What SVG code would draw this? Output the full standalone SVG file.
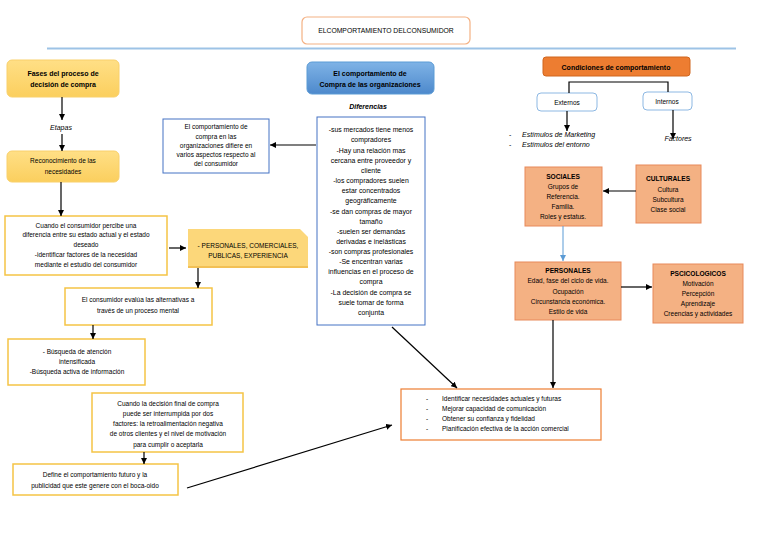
<svg xmlns="http://www.w3.org/2000/svg" width="768" height="543" viewBox="0 0 768 543">
<defs>
<linearGradient id="gy" x1="0" y1="0" x2="0" y2="1"><stop offset="0" stop-color="#ffdf86"/><stop offset="1" stop-color="#fbcf5e"/></linearGradient>
<linearGradient id="gb" x1="0" y1="0" x2="0" y2="1"><stop offset="0" stop-color="#7fb3e6"/><stop offset="1" stop-color="#4d89cc"/></linearGradient>
<marker id="ah" viewBox="0 0 10 10" refX="10" refY="5" markerWidth="6" markerHeight="6" markerUnits="userSpaceOnUse" orient="auto"><path d="M0,0 L10,5 L0,10 z" fill="#000"/></marker>
<marker id="ahb" viewBox="0 0 10 10" refX="10" refY="5" markerWidth="6" markerHeight="6" markerUnits="userSpaceOnUse" orient="auto"><path d="M0,0 L10,5 L0,10 z" fill="#5b9bd5"/></marker>
<style>
text{font-family:"Liberation Sans",Arial,sans-serif;fill:#000;text-anchor:middle}
.t{font-size:6.5px}
.d{font-size:6.9px}
.b{font-size:7px;font-weight:bold}
.i{font-size:7px;font-style:italic}
.ybox{fill:#fff;stroke:#f5c445;stroke-width:1.5}
.bbox{fill:#fff;stroke:#4472c4;stroke-width:1}
.sal{fill:#f4b183;stroke:#e8895a;stroke-width:1}
.con line,.con path{stroke:#000;stroke-width:1.2;fill:none}
</style>
</defs>
<rect width="768" height="543" fill="#fff"/>
<line x1="47" y1="48.5" x2="736" y2="48.5" stroke="#9dc3e6" stroke-width="2"/>

<g id="title">
<rect x="302" y="17" width="168" height="27" rx="5" fill="#fff" stroke="#f4b183" stroke-width="1.2"/>
<text x="386" y="33" style="font-size:6.8px">ELCOMPORTAMIENTO DELCONSUMIDOR</text>
</g>

<g id="fases">
<rect x="7" y="60" width="112" height="37" rx="5" fill="url(#gy)" stroke="#f9d06a" stroke-width="1"/>
<text class="b" x="63" y="75.5">Fases del proceso de</text>
<text class="b" x="63" y="86.5">decisión de compra</text>
</g>

<g id="etapas"><text class="i" x="61" y="130">Etapas</text></g>

<g id="reconocimiento">
<rect x="7" y="151" width="112" height="31" rx="5" fill="url(#gy)" stroke="#f9d06a" stroke-width="1"/>
<text class="t" x="63" y="163">Reconocimiento de las</text>
<text class="t" x="63" y="173.5">necesidades</text>
</g>

<g id="cuando">
<rect class="ybox" x="5" y="216" width="162" height="59"/>
<text class="t" x="86" y="227.5">Cuando el consumidor percibe una</text>
<text class="t" x="86" y="237">diferencia entre su estado actual y el estado</text>
<text class="t" x="86" y="246.5">deseado</text>
<text class="t" x="86" y="257">-identificar factores de la necesidad</text>
<text class="t" x="86" y="267">mediante el estudio del consumidor</text>
</g>

<g id="nota">
<path d="M188,229 H300 L308,237 V268 H188 Z" fill="#fcd77a"/>
<path d="M188,267 H308" stroke="#efb84a" stroke-width="1.5"/>
<text class="t" x="248" y="248">- PERSONALES, COMERCIALES,</text>
<text class="t" x="248" y="258">PUBLICAS, EXPERIENCIA</text>
</g>

<g id="evalua">
<rect class="ybox" x="65" y="288" width="147" height="37"/>
<text class="t" x="138" y="302">El consumidor evalúa las alternativas a</text>
<text class="t" x="138" y="313">través de un proceso mental</text>
</g>

<g id="busqueda">
<rect class="ybox" x="8" y="339" width="137" height="46"/>
<text class="t" x="77" y="354">- Búsqueda de atención</text>
<text class="t" x="77" y="364">intensificada</text>
<text class="t" x="77" y="374">-Búsqueda activa de información</text>
</g>

<g id="decision">
<rect class="ybox" x="92" y="393" width="151" height="59"/>
<text class="t" x="168" y="406">Cuando la decisión final de compra</text>
<text class="t" x="168" y="416">puede ser interrumpida por dos</text>
<text class="t" x="168" y="426">factores: la retroalimentación negativa</text>
<text class="t" x="168" y="436">de otros clientes y el nivel de motivación</text>
<text class="t" x="168" y="447">para cumplir o aceptarla</text>
</g>

<g id="define">
<rect class="ybox" x="13" y="464" width="165" height="31"/>
<text class="t" x="95" y="477">Define el comportamiento futuro y la</text>
<text class="t" x="95" y="488">publicidad que este genere con el boca-oido</text>
</g>

<g id="organizaciones">
<rect x="307" y="62" width="127" height="32" rx="5" fill="url(#gb)" stroke="#5b9bd5" stroke-width="1"/>
<text class="b" x="370" y="75.5">El comportamiento de</text>
<text class="b" x="370" y="86.5">Compra de las organizaciones</text>
</g>

<g id="diferencias-label"><text class="i" x="368" y="109" style="font-weight:bold">Diferencias</text></g>

<g id="diferencias">
<rect class="bbox" x="317" y="117" width="108" height="208"/>
<text class="d" x="371" y="132">-sus mercados tiene  menos</text>
<text class="d" x="371" y="142">compradores</text>
<text class="d" x="371" y="152.5">-Hay una relación mas</text>
<text class="d" x="371" y="162.5">cercana entre proveedor y</text>
<text class="d" x="371" y="172.5">cliente</text>
<text class="d" x="371" y="183">-los compradores suelen</text>
<text class="d" x="371" y="193">estar concentrados</text>
<text class="d" x="371" y="203">geográficamente</text>
<text class="d" x="371" y="213.5">-se dan compras de mayor</text>
<text class="d" x="371" y="223.5">tamaño</text>
<text class="d" x="371" y="233.5">-suelen ser demandas</text>
<text class="d" x="371" y="243.5">derivadas e inelásticas</text>
<text class="d" x="371" y="254">-son compras profesionales</text>
<text class="d" x="371" y="264">-Se encentran varias</text>
<text class="d" x="371" y="274">influencias en el proceso de</text>
<text class="d" x="371" y="284">compra</text>
<text class="d" x="371" y="294.5">-La decisión de compra se</text>
<text class="d" x="371" y="304.5">suele tomar de forma</text>
<text class="d" x="371" y="314.5">conjunta</text>
</g>

<g id="compra-org">
<rect class="bbox" x="163" y="119" width="106" height="54"/>
<text class="t" x="216" y="129">El comportamiento de</text>
<text class="t" x="216" y="138.5">compra en las</text>
<text class="t" x="216" y="147.5">organizaciones difiere en</text>
<text class="t" x="216" y="156.5">varios aspectos respecto al</text>
<text class="t" x="216" y="166">del consumidor</text>
</g>

<g id="objetivos">
<rect x="401" y="389" width="200" height="51" fill="#fff" stroke="#ed7d31" stroke-width="1.2"/>
<g style="text-anchor:start">
<text class="t" x="426" y="401" style="text-anchor:start">-</text>
<text class="t" x="426" y="411" style="text-anchor:start">-</text>
<text class="t" x="426" y="421" style="text-anchor:start">-</text>
<text class="t" x="426" y="431" style="text-anchor:start">-</text>
<text class="t" x="442" y="401" style="text-anchor:start">Identificar necesidades actuales y futuras</text>
<text class="t" x="442" y="411" style="text-anchor:start">Mejorar capacidad de comunicación</text>
<text class="t" x="442" y="421" style="text-anchor:start">Obtener su confianza y fidelidad</text>
<text class="t" x="442" y="431" style="text-anchor:start">Planificación efectiva de la acción comercial</text>
</g>
</g>

<g id="condiciones">
<rect x="543" y="57" width="147" height="19" rx="3" fill="#ed7d31" stroke="#d0661f" stroke-width="1"/>
<text class="b" x="616" y="69.5">Condiciones de comportamiento</text>
</g>

<g id="externos">
<rect x="537" y="93" width="60" height="18" rx="4" fill="#fff" stroke="#8db8e3" stroke-width="1"/>
<text class="t" x="567" y="104.5">Externos</text>
</g>

<g id="internos">
<rect x="643" y="92" width="49" height="18" rx="4" fill="#fff" stroke="#8db8e3" stroke-width="1"/>
<text class="t" x="667" y="103.5">Internos</text>
</g>

<g id="estimulos">
<text class="i" x="509" y="137" style="text-anchor:start;font-style:normal">-</text>
<text class="i" x="509" y="147" style="text-anchor:start;font-style:normal">-</text>
<text class="i" x="522" y="137" style="text-anchor:start">Estímulos de Marketing</text>
<text class="i" x="522" y="147" style="text-anchor:start">Estímulos del entorno</text>
</g>

<g id="factores"><text class="i" x="678" y="141">Factores</text></g>

<g id="sociales">
<rect class="sal" x="525" y="167" width="77" height="59"/>
<text class="b" x="563" y="179" style="font-size:6.6px">SOCIALES</text>
<text class="t" x="563" y="188.5">Grupos de</text>
<text class="t" x="563" y="198.5">Referencia.</text>
<text class="t" x="563" y="208.5">Familia.</text>
<text class="t" x="563" y="218.5">Roles y estatus.</text>
</g>

<g id="culturales">
<rect class="sal" x="636" y="165" width="65" height="58"/>
<text class="b" x="668" y="181" style="font-size:6.6px">CULTURALES</text>
<text class="t" x="668" y="191.5">Cultura</text>
<text class="t" x="668" y="201.5">Subcultura</text>
<text class="t" x="668" y="211.5">Clase social</text>
</g>

<g id="personales">
<rect class="sal" x="515" y="262" width="106" height="58"/>
<text class="b" x="568" y="273" style="font-size:6.6px">PERSONALES</text>
<text class="t" x="568" y="283">Edad, fase del ciclo de vida.</text>
<text class="t" x="568" y="293.5">Ocupación</text>
<text class="t" x="568" y="304">Circunstancia económica.</text>
<text class="t" x="568" y="314">Estilo de vida</text>
</g>

<g id="psicologicos">
<rect class="sal" x="653" y="264" width="90" height="59"/>
<text class="b" x="698" y="275.5" style="font-size:6.6px">PSCICOLOGICOS</text>
<text class="t" x="698" y="285.5">Motivación</text>
<text class="t" x="698" y="295.5">Percepción</text>
<text class="t" x="698" y="305.5">Aprendizaje</text>
<text class="t" x="698" y="315.5">Creencias y actividades</text>
</g>

<g id="connectors" class="con">
<line x1="62" y1="97" x2="62" y2="120" marker-end="url(#ah)"/>
<line x1="62" y1="134" x2="62" y2="151" marker-end="url(#ah)"/>
<line x1="61" y1="182" x2="61" y2="216" marker-end="url(#ah)"/>
<line x1="169" y1="248" x2="186" y2="248" marker-end="url(#ah)"/>
<line x1="198" y1="268" x2="198" y2="288" marker-end="url(#ah)"/>
<line x1="93" y1="325" x2="93" y2="339" marker-end="url(#ah)"/>
<line x1="144" y1="452" x2="144" y2="464" marker-end="url(#ah)"/>
<line x1="187" y1="488" x2="392" y2="425" marker-end="url(#ah)"/>
<line x1="316" y1="145" x2="270" y2="145" marker-end="url(#ah)"/>
<line x1="392" y1="327" x2="457" y2="388" marker-end="url(#ah)"/>
<path d="M569,93 V82 H668 V92"/>
<line x1="567" y1="111" x2="567" y2="131" marker-end="url(#ah)"/>
<line x1="673" y1="110" x2="673" y2="139" marker-end="url(#ah)"/>
<line x1="636" y1="191" x2="603" y2="191" marker-end="url(#ah)"/>
<line x1="563" y1="226" x2="563" y2="261" style="stroke:#5b9bd5;stroke-width:1" marker-end="url(#ahb)"/>
<line x1="621" y1="287" x2="652" y2="287" marker-end="url(#ah)"/>
<line x1="553" y1="320" x2="553" y2="388" marker-end="url(#ah)"/>
</g>
</svg>
